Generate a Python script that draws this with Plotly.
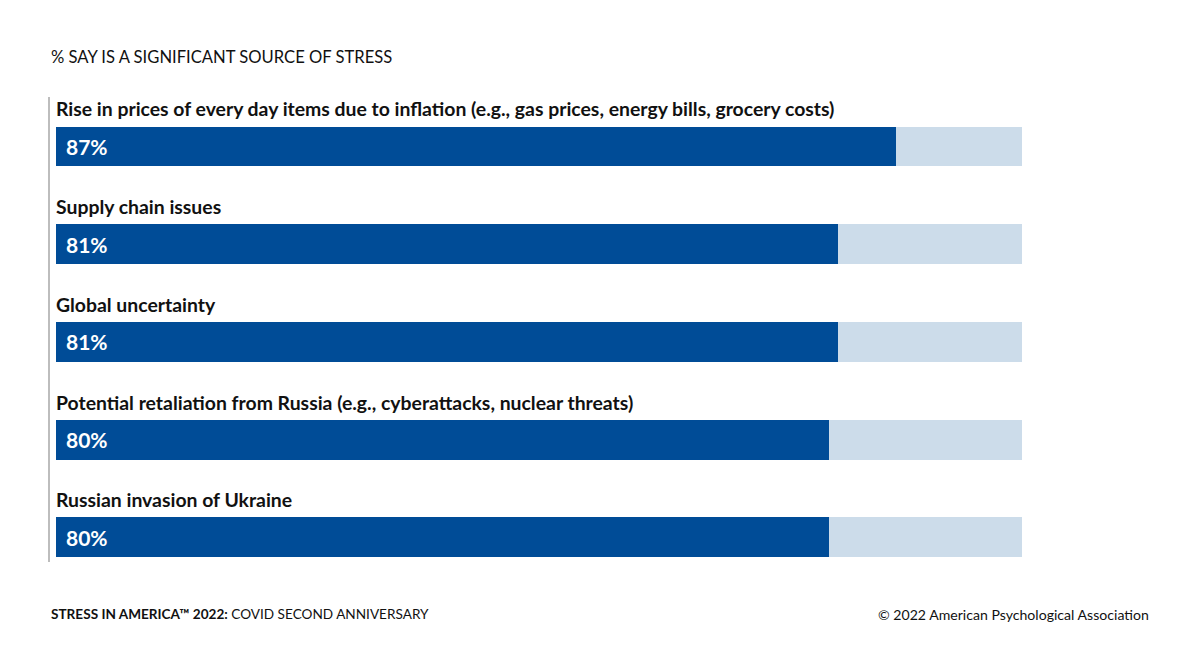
import plotly.graph_objects as go

categories = [
    "Rise in prices of every day items due to inflation (e.g., gas prices, energy bills, grocery costs)",
    "Supply chain issues",
    "Global uncertainty",
    "Potential retaliation from Russia (e.g., cyberattacks, nuclear threats)",
    "Russian invasion of Ukraine",
]
values = [87, 81, 81, 80, 80]
full_scale = [100, 100, 100, 100, 100]

DARK = "#004c97"
LIGHT = "#ccdcea"
FONT = "Lato"

W, H = 1200, 669
L, R, T, B = 56, 178, 90, 99
PW, PH = W - L - R, H - T - B


def px(x):
    return (x - L) / PW


def py(y):
    return 1 - (y - T) / PH


ypos = list(range(len(categories)))

fig = go.Figure()
fig.add_trace(go.Bar(
    x=full_scale, y=ypos, orientation="h", width=0.409,
    marker=dict(color=LIGHT, line=dict(width=0)), hoverinfo="skip", showlegend=False,
))
fig.add_trace(go.Bar(
    x=values, y=ypos, orientation="h", width=0.409,
    marker=dict(color=DARK, line=dict(width=0)),
    showlegend=False,
))

annotations = []
for i, (c, v) in enumerate(zip(categories, values)):
    annotations.append(dict(
        x=0, y=i - 0.384, xref="x", yref="y", text=f"<b>{c}</b>",
        showarrow=False, xanchor="left", yanchor="middle", xshift=-2,
        font=dict(family=FONT, size=19.4, color="#111111"),
    ))
    annotations.append(dict(
        x=0, y=i, xref="x", yref="y", text=f"<b>{v}%</b>",
        showarrow=False, xanchor="left", yanchor="middle", xshift=8,
        font=dict(family=FONT, size=21, color="white"),
    ))

annotations += [
    dict(x=px(49), y=py(57), xref="paper", yref="paper", xanchor="left", yanchor="middle",
         text="% SAY IS A SIGNIFICANT SOURCE OF STRESS", showarrow=False,
         font=dict(family=FONT, size=16.6, color="#111111")),
    dict(x=px(49), y=py(614), xref="paper", yref="paper", xanchor="left", yanchor="middle",
         text="<b>STRESS IN AMERICA™ 2022:</b> COVID SECOND ANNIVERSARY", showarrow=False,
         font=dict(family=FONT, size=13.6, color="#111111")),
    dict(x=px(1151), y=py(614), xref="paper", yref="paper", xanchor="right", yanchor="middle",
         text="© 2022 American Psychological Association", showarrow=False,
         font=dict(family=FONT, size=14.1, color="#111111")),
]

fig.update_layout(
    width=W, height=H,
    margin=dict(l=L, r=R, t=T, b=B, pad=0),
    paper_bgcolor="white", plot_bgcolor="white",
    barmode="overlay", bargap=0,
    xaxis=dict(range=[0, 100], visible=False, fixedrange=True, showgrid=False, zeroline=False),
    yaxis=dict(range=[4.333, -0.578], visible=False, fixedrange=True, showgrid=False, zeroline=False),
    annotations=annotations,
    shapes=[dict(type="line", xref="paper", yref="paper", x0=px(49), x1=px(49), y0=py(97), y1=py(562),
                 line=dict(color="#bdbdbd", width=2))],
)

fig.write_html("out.html", config={"displayModeBar": False},
               post_script="document.body.style.margin='0';")
